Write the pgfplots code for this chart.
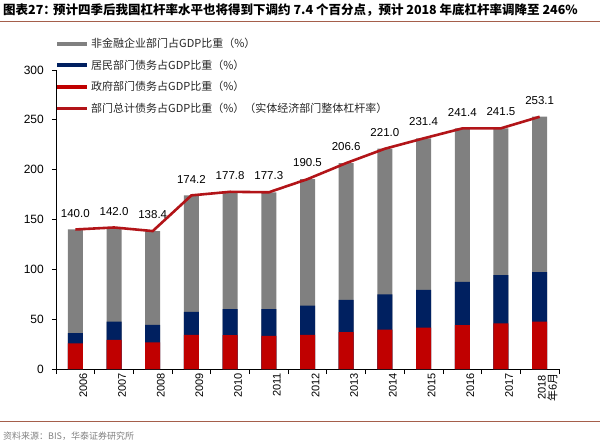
\documentclass[border=0pt]{standalone}
\usepackage{fontspec}
\setmainfont{Liberation Sans}
\newfontfamily\cjk{Noto Sans CJK SC}
\usepackage{pgfplots}
\pgfplotsset{compat=1.18}
\definecolor{barGray}{RGB}{128,128,128}
\definecolor{barNavy}{RGB}{0,32,96}
\definecolor{barRed}{RGB}{192,0,0}
\definecolor{lineRed}{RGB}{178,20,24}
\definecolor{ruleBrown}{RGB}{165,95,75}
\begin{document}
\begin{tikzpicture}
\path[use as bounding box] (0pt,0pt) rectangle (600pt,445pt);
\node[anchor=base west, inner sep=0pt, font=\cjk\bfseries\fontsize{12.5}{14}\selectfont] at (3pt,430pt) {图表27：};
\node[anchor=base west, inner sep=0pt, font=\cjk\bfseries\fontsize{12.5}{14}\selectfont] at (53pt,430pt) {预计四季后我国杠杆率水平也将得到下调约 7.4 个百分点，预计 2018 年底杠杆率调降至 246\%};
\draw[ruleBrown, line width=0.8pt] (0pt,424pt) -- (600pt,424pt);
\draw[ruleBrown, line width=0.8pt] (0pt,24pt) -- (600pt,24pt);
\node[anchor=base west, inner sep=0pt, text=gray, font=\cjk\fontsize{9}{10}\selectfont] at (3pt,6pt) {资料来源：BIS，华泰证券研究所};
\begin{axis}[
  at={(56pt,76pt)}, anchor=south west,
  scale only axis, width=503pt, height=299pt,
  xmin=-0.5, xmax=12.5, ymin=0, ymax=300,
  axis x line*=bottom, axis y line*=left,
  axis line style={black, line width=0.8pt},
  tick align=outside,
  ytick={0,50,...,300},
  major tick length=4pt, minor tick length=5pt,
  xtick={0,...,12},
  major x tick style={draw=none},
  minor xtick={-0.5,0.5,...,12.5},
  every tick/.style={black, line width=0.8pt},
  xticklabels={2006,2007,2008,2009,2010,2011,2012,2013,2014,2015,2016,2017,{2018\\{\cjk 年6月}}},
  xticklabel style={rotate=90, anchor=east, align=center, inner sep=0pt, font=\fontsize{11}{11}\selectfont, yshift=-8pt},
  yticklabel style={inner sep=0pt, xshift=-8pt, font=\fontsize{12}{13}\selectfont},
  /pgf/number format/assume math mode=true,
  legend image code/.code={\draw[#1] (0pt,0pt) -- (30pt,0pt);},
  legend style={at={(-0.002,1.114)}, anchor=north west, draw=none, fill=none,
    font=\cjk\fontsize{11}{13}\selectfont, row sep=6.6pt, inner sep=0pt,
    text=black!85,
    /tikz/every even column/.append style={column sep=0pt}},
  legend cell align=left,
]
% gray: total (top of non-financial corporate segment)
\addplot[ybar, bar width=15pt, bar shift=0pt, fill=barGray, draw=none, forget plot]
  coordinates {(0,140.0) (1,142.0) (2,138.4) (3,174.2) (4,177.8) (5,177.3) (6,190.5) (7,206.6) (8,221.0) (9,231.4) (10,241.4) (11,241.5) (12,253.1)};
% navy: top of household segment (government + household)
\addplot[ybar, bar width=15pt, bar shift=0pt, fill=barNavy, draw=none, forget plot]
  coordinates {(0,35.9) (1,47.5) (2,44.2) (3,57.3) (4,60.0) (5,60.0) (6,63.6) (7,69.3) (8,75.0) (9,79.4) (10,87.4) (11,94.1) (12,97.2)};
% red: government
\addplot[ybar, bar width=15pt, bar shift=0pt, fill=barRed, draw=none, forget plot]
  coordinates {(0,25.8) (1,29.1) (2,26.8) (3,34.2) (4,33.9) (5,33.2) (6,34.2) (7,36.9) (8,39.5) (9,41.5) (10,43.9) (11,45.9) (12,47.5)};
% total line
\addplot[lineRed, line width=2.6pt, mark=none, sharp plot, forget plot,
  point meta=y,
  nodes near coords={\pgfmathprintnumber[fixed,fixed zerofill,precision=1,assume math mode=true]{\pgfplotspointmeta}},
  every node near coord/.append style={anchor=south, inner sep=0pt, yshift=11pt, black, font=\fontsize{11.5}{12}\selectfont}]
  coordinates {(0,140.0) (1,142.0) (2,138.4) (3,174.2) (4,177.8) (5,177.3) (6,190.5) (7,206.6) (8,221.0) (9,231.4) (10,241.4) (11,241.5) (12,253.1)};
\addlegendimage{barGray, line width=4pt}
\addlegendentry{非金融企业部门占GDP比重（\%）}
\addlegendimage{barNavy, line width=4pt}
\addlegendentry{居民部门债务占GDP比重（\%）}
\addlegendimage{barRed, line width=4pt}
\addlegendentry{政府部门债务占GDP比重（\%）}
\addlegendimage{lineRed, line width=3pt}
\addlegendentry{部门总计债务占GDP比重（\%）（实体经济部门整体杠杆率）}
\end{axis}
\end{tikzpicture}
\end{document}
